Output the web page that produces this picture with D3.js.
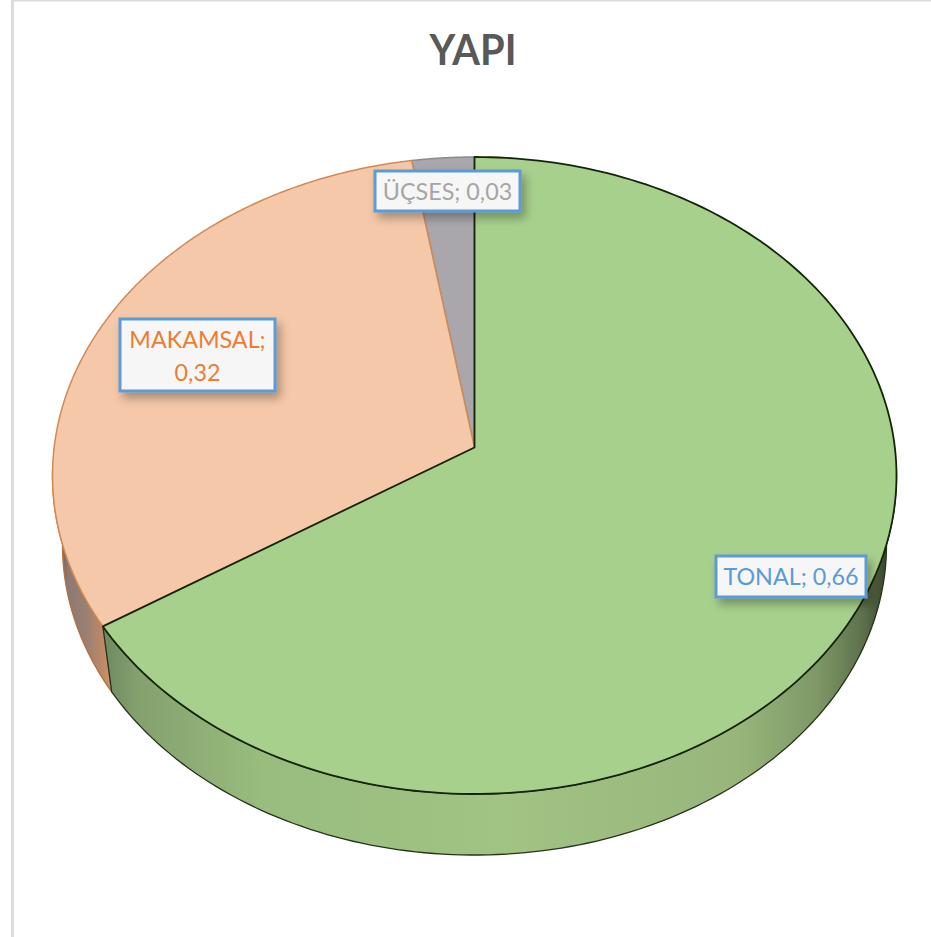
<!DOCTYPE html>
<html>
<head>
<meta charset="utf-8">
<title>YAPI</title>
<script src="https://cdnjs.cloudflare.com/ajax/libs/d3/7.8.5/d3.min.js"></script>
<style>
    html, body { margin: 0; padding: 0; background: #fff; }
    svg { display: block; }
    text { font-family: Lato, "Open Sans", sans-serif; }
</style>
</head>
<body>
<div id="graphContainer"></div>
<script>
// values
var chartTitle = "YAPI";
var categories = ["TONAL", "MAKAMSAL", "ÜÇSES"];
var values = [0.66, 0.315, 0.026];

var sliceColors = ["#a8d08d", "#f5c8a9", "#a9a7ab"];
var rimColors = ["#142409", "#d08a55", "#8b8b8b"];
var labelColors = ["#5b9bd5", "#ed7d31", "#a5a5a5"];

//set up drawingspace
var width = 931,
    height = 937;

var svg = d3.select("#graphContainer").append("svg")
    .attr("width", width)
    .attr("height", height);

// top face ellipse, lower rim ellipse and how far the tilt moves the pie centre
var top_ = {cx: 474.5, cy: 475.5, rx: 422, ry: 318.5},
    bottom_ = {cx: 474.5, cy: 545, rx: 412, ry: 310},
    tilt = -28 / 318.5;

// label boxes, same order as categories
var labelBoxes = [
    {x: 716, y: 556, w: 150, h: 41, lines: 1},
    {x: 120, y: 319, w: 155, h: 72, lines: 2},
    {x: 375, y: 171, w: 145, h: 40, lines: 1}
];

var defs = svg.append("defs");

var shadow = defs.append("filter").attr("id", "labelShadow")
    .attr("x", "-20%").attr("y", "-30%").attr("width", "140%").attr("height", "170%");
shadow.append("feDropShadow")
    .attr("dx", 4).attr("dy", 6).attr("stdDeviation", 5)
    .attr("flood-color", "#000").attr("flood-opacity", 0.3);

function addGradient(id, x1, x2, stops) {
    var g = defs.append("linearGradient").attr("id", id)
        .attr("gradientUnits", "userSpaceOnUse")
        .attr("x1", x1).attr("x2", x2).attr("y1", 0).attr("y2", 0);
    stops.forEach(function (s) {
        g.append("stop").attr("offset", s[0]).attr("stop-color", s[1]);
    });
}

addGradient("sideGreen", 105, 896, [
    [0, "#6f8a62"], [0.04, "#84a06e"], [0.2, "#98bd7e"], [0.5, "#a1c384"],
    [0.8, "#98b67c"], [0.9, "#7f9866"], [0.96, "#5c6f4b"], [1, "#2c3520"]
]);
addGradient("sideOrange", 53, 113, [
    [0, "#5a4a40"], [0.25, "#8c7a72"], [0.55, "#9a7f72"], [0.85, "#c08a66"], [1, "#d19a74"]
]);

//chart frame, only top and left show in the crop
svg.append("rect").attr("x", 11).attr("y", 0).attr("width", 3).attr("height", height).attr("fill", "#dcdcdc");
svg.append("rect").attr("x", 11).attr("y", 0).attr("width", width - 11).attr("height", 1.5).attr("fill", "#dcdcdc");

svg.append("text")
    .attr("x", 473)
    .attr("y", 65)
    .attr("text-anchor", "middle")
    .attr("font-size", 42)
    .attr("font-weight", 700)
    .attr("fill", "#595959")
    .attr("textLength", 87)
    .attr("lengthAdjust", "spacingAndGlyphs")
    .text(chartTitle);

// angle on the flat disc -> unit point on the tilted disc
function tiltPoint(angle) {
    var x = Math.sin(angle),
        y = -Math.cos(angle),
        d = 1 + tilt * y;
    return [x * Math.sqrt(1 - tilt * tilt) / d, (y + tilt) / d];
}

function onEllipse(e, p) {
    return [e.cx + e.rx * p[0], e.cy + e.ry * p[1]];
}

function rimAngle(angle) {
    var p = tiltPoint(angle);
    return Math.atan2(p[1], p[0]);
}

var pie = d3.pie().sort(null).value(function (d) { return d; });
var slices = pie(values);
var line = d3.line();
var apex = onEllipse(top_, [0, tilt]);

function sidePath(phi0, phi1) {
    var ts = d3.range(0, 1.0001, 1 / 120).map(function (t) { return phi0 + (phi1 - phi0) * t; });
    var upper = ts.map(function (a) { return onEllipse(top_, [Math.cos(a), Math.sin(a)]); });
    var lower = ts.map(function (a) { return onEllipse(bottom_, [Math.cos(a), Math.sin(a)]); });
    return line(upper.concat(lower.reverse())) + "Z";
}

//side wall: green runs from the right tangent round to the first slice end, orange on to the left tangent
var splitPhi = rimAngle(slices[0].endAngle);
var sides = [
    {phi0: -0.02, phi1: splitPhi, fill: "url(#sideGreen)", stroke: "#27331d"},
    {phi0: splitPhi, phi1: Math.PI + 0.02, fill: "url(#sideOrange)", stroke: "#b5713f"}
];

svg.append("g").selectAll("path")
    .data(sides.slice().reverse())
    .enter().append("path")
    .attr("d", function (d) { return sidePath(d.phi0, d.phi1); })
    .attr("fill", function (d) { return d.fill; })
    .attr("stroke", function (d) { return d.stroke; })
    .attr("stroke-width", 1.3)
    .attr("stroke-linejoin", "round");

function slicePath(d) {
    var pts = d3.range(0, 1.0001, 1 / 200).map(function (t) {
        return onEllipse(top_, tiltPoint(d.startAngle + (d.endAngle - d.startAngle) * t));
    });
    return line([apex].concat(pts)) + "Z";
}

//top face, green last so its dark outline stays on top
var order = [2, 1, 0];
svg.append("g").selectAll("path")
    .data(order)
    .enter().append("path")
    .attr("d", function (i) { return slicePath(slices[i]); })
    .attr("fill", function (i) { return sliceColors[i]; })
    .attr("stroke", function (i) { return rimColors[i]; })
    .attr("stroke-width", function (i) { return i === 0 ? 1.8 : 1.5; })
    .attr("stroke-linejoin", "round");

//labels
var fmt = d3.format(".2f");
function valueText(v) { return fmt(v).replace(".", ","); }

var label = svg.append("g").selectAll("g")
    .data(categories)
    .enter().append("g");

label.append("rect")
    .attr("x", function (d, i) { return labelBoxes[i].x; })
    .attr("y", function (d, i) { return labelBoxes[i].y; })
    .attr("width", function (d, i) { return labelBoxes[i].w; })
    .attr("height", function (d, i) { return labelBoxes[i].h; })
    .attr("fill", "#f6f6f6")
    .attr("stroke", "#5b9bd5")
    .attr("stroke-width", 3)
    .attr("filter", "url(#labelShadow)");

label.each(function (d, i) {
    var box = labelBoxes[i],
        cx = box.x + box.w / 2,
        lines = box.lines === 2 ? [d + ";", valueText(values[i])] : [d + "; " + valueText(values[i])];
    d3.select(this).selectAll("text")
        .data(lines)
        .enter().append("text")
        .attr("x", cx)
        .attr("y", function (t, j) { return box.y + 29 + j * 33; })
        .attr("text-anchor", "middle")
        .attr("font-size", 23.3)
        .attr("fill", labelColors[i])
        .text(function (t) { return t; });
});
</script>
</body>
</html>
